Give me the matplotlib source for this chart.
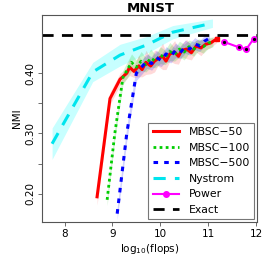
import matplotlib
matplotlib.use("Agg")
import matplotlib.pyplot as plt
import numpy as np

# --- data ---
nys_x = [7.74, 8.59, 9.16, 9.72, 10.26, 11.09]
nys_y = [0.283, 0.402, 0.430, 0.447, 0.468, 0.483]
nys_sd = [0.026, 0.016, 0.018, 0.014, 0.011, 0.007]

m50_x = [8.68, 8.95, 9.16, 9.30, 9.36, 9.45, 9.55, 9.62, 9.70, 9.80, 9.88, 9.95, 10.05,
         10.12, 10.20, 10.30, 10.38, 10.45, 10.55, 10.65, 10.75, 10.85, 10.95, 11.05, 11.18]
m50_y = [0.195, 0.358, 0.390, 0.400, 0.410, 0.403, 0.412, 0.406, 0.418, 0.412, 0.420, 0.424, 0.428,
         0.420, 0.432, 0.435, 0.428, 0.438, 0.440, 0.434, 0.445, 0.442, 0.448, 0.450, 0.457]
m50_sd = [0.014, 0.010, 0.010, 0.009, 0.014, 0.010, 0.018, 0.012, 0.020, 0.013, 0.018, 0.012, 0.022,
          0.014, 0.012, 0.019, 0.013, 0.011, 0.016, 0.012, 0.010, 0.013, 0.009, 0.008, 0.006]

m100_x = [8.89, 9.05, 9.22, 9.40, 9.50, 9.60, 9.70, 9.80, 9.90, 10.00, 10.10, 10.20,
          10.30, 10.40, 10.50, 10.60, 10.70, 10.80, 10.90, 11.00, 11.10]
m100_y = [0.190, 0.300, 0.393, 0.418, 0.410, 0.420, 0.414, 0.425, 0.420, 0.430, 0.426, 0.436,
          0.431, 0.440, 0.435, 0.444, 0.440, 0.447, 0.444, 0.450, 0.452]
m100_sd = [0.010, 0.010, 0.012, 0.014, 0.012, 0.016, 0.012, 0.015, 0.011, 0.014, 0.012, 0.015,
           0.011, 0.013, 0.013, 0.011, 0.012, 0.010, 0.011, 0.009, 0.008]

m500_x = [9.10, 9.30, 9.50, 9.72, 9.82, 9.92, 10.02, 10.12, 10.22, 10.32, 10.42, 10.52,
          10.62, 10.72, 10.82, 10.92, 11.03]
m500_y = [0.167, 0.300, 0.400, 0.420, 0.416, 0.426, 0.421, 0.432, 0.428, 0.438, 0.434, 0.444,
          0.440, 0.449, 0.445, 0.453, 0.458]
m500_sd = [0.010, 0.012, 0.012, 0.012, 0.011, 0.012, 0.010, 0.012, 0.011, 0.012, 0.010, 0.011,
           0.010, 0.010, 0.009, 0.009, 0.008]

pow_x = [11.33, 11.64, 11.80, 11.95]
pow_y = [0.452, 0.443, 0.440, 0.457]

exact_y = 0.463

fig = plt.figure(figsize=(2.66, 2.66), dpi=100)
ax = fig.add_axes([0.158, 0.165, 0.808, 0.779])

def band(x, y, sd, color, alpha):
    y = np.array(y)
    sd = np.array(sd)
    ax.fill_between(x, y - sd, y + sd, color=color, alpha=alpha, linewidth=0)

band(nys_x, nys_y, nys_sd, '#00FFFF', 0.22)
band(m50_x, m50_y, m50_sd, '#FF0000', 0.15)
band(m100_x, m100_y, m100_sd, '#00CD00', 0.18)
band(m500_x, m500_y, m500_sd, '#0000FF', 0.18)

ax.plot(m50_x, m50_y, color='#FF0000', lw=2.2, label='MBSC\u221250')
ax.plot(m100_x, m100_y, color='#00CD00', lw=2.0, ls=(0, (1, 1.2)), label='MBSC\u2212100')
ax.plot(m500_x, m500_y, color='#0000FF', lw=2.2, ls=(0, (1.5, 2)), label='MBSC\u2212500')
ax.plot(nys_x, nys_y, color='#00E5EE', lw=2.2, ls=(0, (4, 3)), label='Nystrom')
ax.plot(pow_x, pow_y, color='#FF00FF', lw=1.5, marker='o', ms=4, mfc='#FF00FF',
        mec='#FF00FF', label='Power')
ax.plot(pow_x, pow_y, ls='none', marker='o', ms=1.3, color='black')
ax.plot(m50_x[-1:], m50_y[-1:], ls='none', marker='s', ms=3.5, color='#FF0000')
ax.axhline(exact_y, color='black', lw=2, ls=(0, (4, 3)), label='Exact')

ax.set_xlim(7.53, 12.02)
ax.set_ylim(0.153, 0.4967)
ax.set_xticks([8, 9, 10, 11, 12])
ax.set_yticks([0.20, 0.25, 0.30, 0.35, 0.40])
ax.set_yticklabels(['0.20', '', '0.30', '', '0.40'], rotation=90, va='center')
ax.tick_params(labelsize=7.5, length=3, width=0.6, color='#555555', pad=2)
for s in ax.spines.values():
    s.set_linewidth(0.8)
    s.set_color('#555555')

fig.text(0.565, 1 - 9 / 266, 'MNIST', fontsize=9.5, fontweight='bold',
         ha='center', va='center')
ax.set_ylabel('NMI', fontsize=7.5, labelpad=2)
ax.set_xlabel('log$_{10}$(flops)', fontsize=7.5, labelpad=2)

leg = ax.legend(loc='lower right', fontsize=7.8, frameon=True, fancybox=False,
                edgecolor='#555555', borderaxespad=0.25, handlelength=2.4,
                labelspacing=0.52, borderpad=0.4, handletextpad=0.9)
leg.get_frame().set_linewidth(0.8)

fig.savefig('out.png', dpi=100)
